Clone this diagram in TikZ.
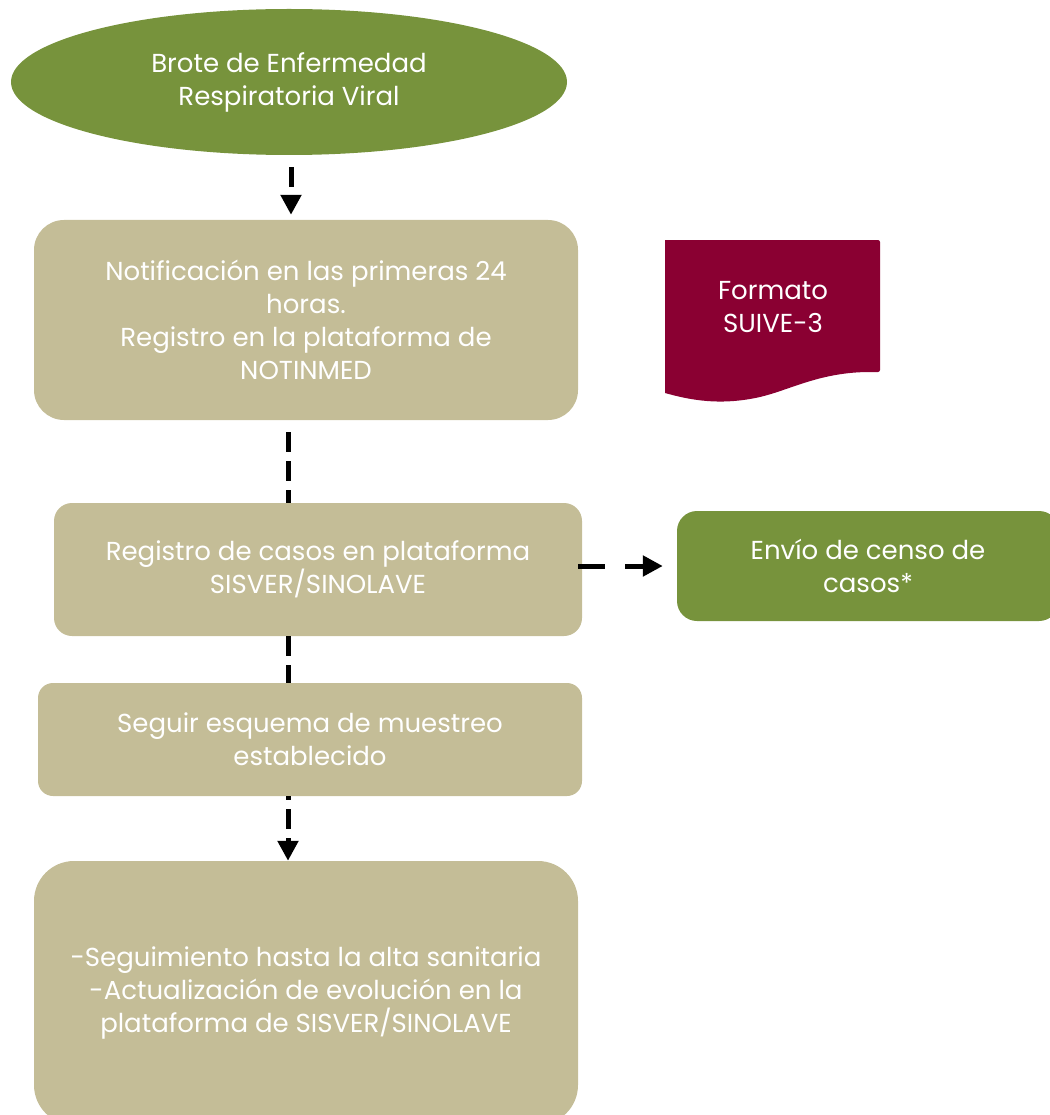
\documentclass[tikz,border=0pt]{standalone}
\usepackage{fontspec}
\setmainfont{Poppins}
\usetikzlibrary{shapes.geometric,arrows.meta}
\definecolor{olivegreen}{HTML}{77933C}
\definecolor{tanbox}{HTML}{C4BD97}
\definecolor{maroondoc}{HTML}{8A0032}

\begin{document}
\begin{tikzpicture}[yscale=-1,x=1pt,y=1pt
  ,pstyle0/.style={fill=tanbox,draw=none,text=white,align=center,font=\fontsize{26}{33}\selectfont}
  ,pstyle1/.style={fill=olivegreen,draw=none,text=white,align=center,font=\fontsize{26}{33}\selectfont}
  ,pstyle2/.style={black,line width=5pt,dash pattern=on 20pt off 9pt}
  ,pstyle3/.style={pstyle2,-{Triangle[width=20pt,length=20pt]}}
]
\useasboundingbox (0,0) rectangle (1049,1115);

% --- Nodes ---
\node[pstyle1,ellipse,minimum width=556pt,minimum height=146pt] (brote) at (289,82)
  {Brote de Enfermedad\\Respiratoria Viral};

\node[pstyle0,rounded corners=30pt,minimum width=544pt,minimum height=200pt] (notif) at (306,320)
  {Notificación en las primeras 24\\horas.\\Registro en la plataforma de\\NOTINMED};

\node[pstyle0,rounded corners=18pt,minimum width=528pt,minimum height=133pt] (registro) at (318,569.5)
  {Registro de casos en plataforma\\SISVER/SINOLAVE};

\node[pstyle1,rounded corners=20pt,minimum width=382pt,minimum height=110pt] (censo) at (868,566)
  {Envío de censo de\\casos*};

\node[pstyle0,rounded corners=15pt,minimum width=544pt,minimum height=113pt] (muestreo) at (310,739.5)
  {Seguir esquema de muestreo\\establecido};

\node[pstyle0,rounded corners=40pt,minimum width=544pt,minimum height=264pt] (seguim) at (306,993)
  {-Seguimiento hasta la alta sanitaria\\-Actualización de evolución en la\\plataforma de SISVER/SINOLAVE};

% --- Document shape ---
\fill[maroondoc,rounded corners=2pt] (665,240) -- (880,240) -- (880,372)
  -- (872,372) [sharp corners] .. controls (820,372) and (790,390) .. (760,397)
  .. controls (720,406) and (690,400) .. (665,393) -- cycle;
\node[text=white,align=center,font=\fontsize{26}{33}\selectfont] (suive) at (773,307)
  {Formato\\SUIVE-3};

% --- Connectors ---
\coordinate (spine) at (288,0);
\draw[pstyle3,shorten <=12pt,shorten >=5pt] ([xshift=2pt]brote.south) -- ([xshift=2pt]brote.south |- notif.north);
\draw[pstyle2,shorten <=12pt] (notif.south -| spine) -- (registro.north -| spine);
\draw[pstyle2] (registro.south -| spine) -- (muestreo.north -| spine);
\draw[pstyle3,dash phase=16pt] (muestreo.south -| spine) -- (seguim.north -| spine);
\draw[pstyle3,shorten <=-4pt,shorten >=14pt,dash pattern=on 27pt off 20pt] (registro.east |- censo.west) -- (censo.west);

\end{tikzpicture}
\end{document}
